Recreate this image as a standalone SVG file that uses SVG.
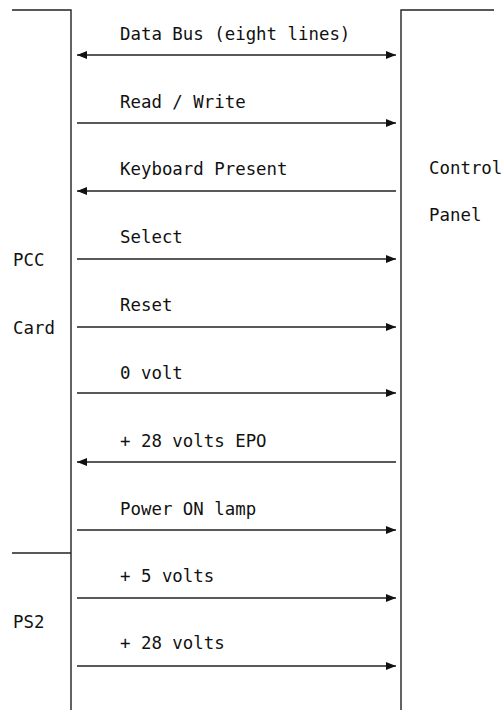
<svg xmlns="http://www.w3.org/2000/svg" width="501" height="710" viewBox="0 0 501 710">
<style>
text{font-family:"DejaVu Sans Mono","Liberation Mono",monospace;font-size:17.4px;fill:#111}
.ln{stroke:#222;stroke-width:1.4;fill:none}
</style>
<defs>
<marker id="ah" viewBox="0 0 10 8" refX="10" refY="4" markerWidth="10" markerHeight="8" markerUnits="userSpaceOnUse" orient="auto-start-reverse">
<path d="M0,0 L10,4 L0,8 Z" fill="#111"/>
</marker>
</defs>
<g id="pcc-card">
<path class="ln" d="M12,10 H71 V710"/>
<text x="13" y="266">PCC</text>
<text x="13" y="334">Card</text>
</g>
<g id="ps2">
<path class="ln" d="M12,553 H71"/>
<text x="13" y="628">PS2</text>
</g>
<g id="control-panel">
<path class="ln" d="M494,10 H401 V710"/>
<text x="429" y="174">Control</text>
<text x="429" y="221">Panel</text>
</g>
<g id="connectors">
<line class="ln" x1="77" y1="55" x2="396" y2="55" marker-start="url(#ah)" marker-end="url(#ah)"/>
<text x="120" y="40">Data Bus (eight lines)</text>
<line class="ln" x1="77" y1="123" x2="396" y2="123" marker-end="url(#ah)"/>
<text x="120" y="108">Read / Write</text>
<line class="ln" x1="396" y1="191" x2="77" y2="191" marker-end="url(#ah)"/>
<text x="120" y="175">Keyboard Present</text>
<line class="ln" x1="77" y1="259" x2="396" y2="259" marker-end="url(#ah)"/>
<text x="120" y="243">Select</text>
<line class="ln" x1="77" y1="327" x2="396" y2="327" marker-end="url(#ah)"/>
<text x="120" y="311">Reset</text>
<line class="ln" x1="77" y1="393" x2="396" y2="393" marker-end="url(#ah)"/>
<text x="120" y="379">0 volt</text>
<line class="ln" x1="396" y1="462" x2="77" y2="462" marker-end="url(#ah)"/>
<text x="120" y="447">+ 28 volts EPO</text>
<line class="ln" x1="77" y1="530" x2="396" y2="530" marker-end="url(#ah)"/>
<text x="120" y="515">Power ON lamp</text>
<line class="ln" x1="77" y1="598" x2="396" y2="598" marker-end="url(#ah)"/>
<text x="120" y="582">+ 5 volts</text>
<line class="ln" x1="77" y1="666" x2="396" y2="666" marker-end="url(#ah)"/>
<text x="120" y="649">+ 28 volts</text>
</g>
</svg>
